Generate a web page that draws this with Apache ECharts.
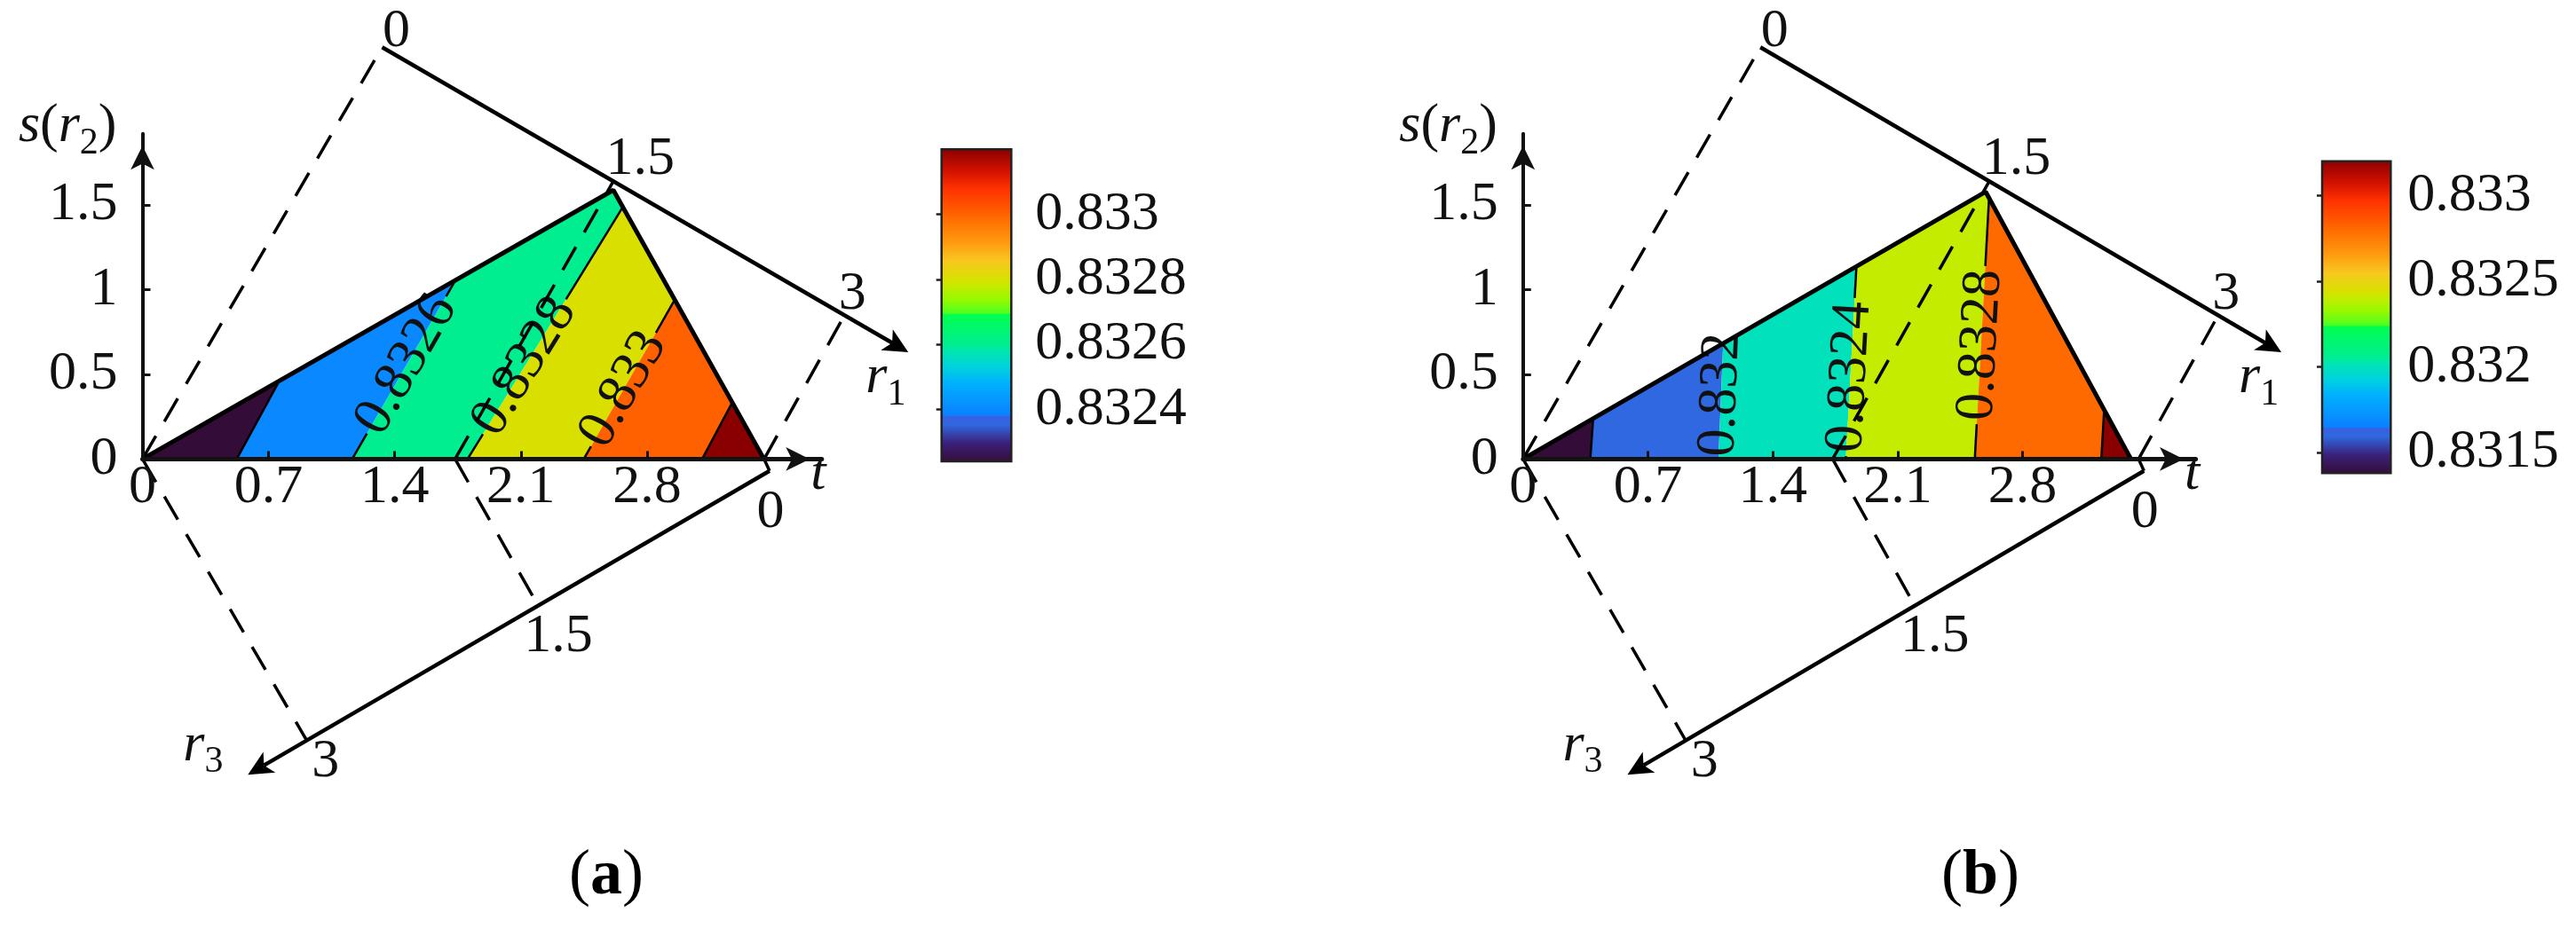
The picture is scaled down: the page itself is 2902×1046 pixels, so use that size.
<!DOCTYPE html>
<html><head><meta charset="utf-8">
<script src="https://cdn.jsdelivr.net/npm/echarts@6/dist/echarts.min.js"></script>
<style>html,body{margin:0;padding:0;background:#fff}#main{width:2902px;height:1046px}</style>
</head><body><div id="main"></div>
<script>
// ---------------- data ----------------
const tTicks = [0, 0.7, 1.4, 2.1, 2.8];
const sTicks = [0, 0.5, 1, 1.5];
const tMax = 3.77, sMax = 1.92;

// triangular domain (t, s(r2)) for each panel
const triangleA = [[0, 0], [2.613, 1.587], [3.449, 0]];
const triangleB = [[0, 0], [2.593, 1.577], [3.407, 0]];

// contour levels
const levelsA = [0.8324, 0.8326, 0.8328, 0.833, 0.8332];
const levelsB = [0.8316, 0.832, 0.8324, 0.8328, 0.8332];

// each contour line: t where it meets s = 0, and one upper point (t, s)
const contourBottomA = [0.523, 1.164, 1.804, 2.449, 3.106];
const contourUpperA = [[0.753, 0.449], [1.732, 1.046], [2.329, 0.906], [2.941, 0.916], [3.269, 0.325]];
const contourBottomB = [0.377, 1.095, 1.809, 2.532, 3.241];
const contourUpperB = [[0.392, 0.225], [1.121, 0.665], [1.869, 1.146], [2.608, 1.466], [3.256, 0.274]];

// which contours carry an inline label, and the s value at the label centre
const labelledA = [1, 2, 3];
const labelSA = [0.555, 0.545, 0.41];
const labelledB = [1, 2, 3];
const labelSB = [0.379, 0.484, 0.672];

// colour bars
const colorbarRangeA = [0.83224, 0.8332];
const colorbarTicksA = [0.8324, 0.8326, 0.8328, 0.833];
const colorbarRangeB = [0.83138, 0.8332];
const colorbarTicksB = [0.8315, 0.832, 0.8325, 0.833];

// colormap (fraction -> colour)
const cmapPos = [0, 0.06, 0.121, 0.145, 0.15, 0.167, 0.25, 0.30, 0.352, 0.375, 0.47, 0.475, 0.52, 0.56, 0.583, 0.64, 0.70, 0.78, 0.792, 0.87, 0.93, 1];
const cmapColors = ['#330d38', '#3b1f78', '#2f68e0', '#3a5fe0', '#0a80ff', '#0a88ff', '#00b0ff', '#00d0e0', '#00e6b2', '#00ee90', '#00ff50', '#50ff20', '#98f800', '#c4ec00', '#d9e000', '#f8c820', '#ff9a10', '#ff6a00', '#ff6100', '#ff3200', '#d01000', '#8a0000'];

// auxiliary r1 / r3 frame (shared), in (t, s) units
const tAnchors = [0, 1.735, 3.45];
const r1Values = [0, 1.5, 3];
const r3Values = [3, 1.5, 0];
const r1Zero = [1.33, 2.43], r1Three = [3.90, 0.856], r1Tip = [4.25, 0.63];
const r3Zero = [3.48, -0.07], r3Three = [0.908, -1.654], r3Tip = [0.585, -1.863];
const rTickValues = [0, 1.5, 3];
const rTickLabels = ['0', '1.5', '3'];

// ---------------- layout / style ----------------
const FONT = 'Liberation Serif';
const INK = '#111';
const FS = 62, SUB_FS = 42, SUB_DROP = 19;
const r1LabelOffset = [[16, -18], [30, -24], [8, -22]];
const r3LabelOffset = [[1, 47], [23, 36], [22, 25]];

const mctx = document.createElement('canvas').getContext('2d');
function tw(str, font) { mctx.font = font; return mctx.measureText(str).width; }
function fontOf(p) { return (p.italic ? 'italic ' : '') + (p.sub ? SUB_FS : FS) + 'px "' + FONT + '"'; }
function fmt(v) { return String(+v.toFixed(5)); }
function lerp2(a, b, u) { return [a[0] + (b[0] - a[0]) * u, a[1] + (b[1] - a[1]) * u]; }
function hexRgb(h) { return [parseInt(h.slice(1, 3), 16), parseInt(h.slice(3, 5), 16), parseInt(h.slice(5, 7), 16)]; }
function cmap(f) {
  f = Math.max(0, Math.min(1, f));
  for (let i = 0; i < cmapPos.length - 1; i++) {
    if (f <= cmapPos[i + 1]) {
      const u = (f - cmapPos[i]) / (cmapPos[i + 1] - cmapPos[i] || 1);
      const a = hexRgb(cmapColors[i]), b = hexRgb(cmapColors[i + 1]);
      return 'rgb(' + a.map((x, k) => Math.round(x + (b[k] - x) * u)).join(',') + ')';
    }
  }
  return cmapColors[cmapColors.length - 1];
}
function clipHalf(poly, P, Q, keepLeft) {
  const dx = Q[0] - P[0], dy = Q[1] - P[1];
  const f = p => dx * (p[1] - P[1]) - dy * (p[0] - P[0]);
  const out = [];
  for (let i = 0; i < poly.length; i++) {
    const a = poly[i], b = poly[(i + 1) % poly.length];
    const fa = f(a), fb = f(b);
    const ina = keepLeft ? fa >= 0 : fa <= 0, inb = keepLeft ? fb >= 0 : fb <= 0;
    if (ina) out.push(a);
    if (ina !== inb) { const u = fa / (fa - fb); out.push([a[0] + u * (b[0] - a[0]), a[1] + u * (b[1] - a[1])]); }
  }
  return out;
}
function lineInTriangle(tri, P, Q) {
  const d = [Q[0] - P[0], Q[1] - P[1]], ws = [];
  for (let i = 0; i < 3; i++) {
    const a = tri[i], b = tri[(i + 1) % 3], e = [b[0] - a[0], b[1] - a[1]];
    const den = d[0] * e[1] - d[1] * e[0];
    if (Math.abs(den) < 1e-12) continue;
    const ax = a[0] - P[0], ay = a[1] - P[1];
    const w = (ax * e[1] - ay * e[0]) / den, v = (ax * d[1] - ay * d[0]) / den;
    if (v >= -1e-9 && v <= 1 + 1e-9) ws.push(w);
  }
  const w0 = Math.min(...ws), w1 = Math.max(...ws);
  return [[P[0] + d[0] * w0, P[1] + d[1] * w0], [P[0] + d[0] * w1, P[1] + d[1] * w1]];
}
function seg(a, b, dashed, width) {
  return { type: 'line', shape: { x1: a[0], y1: a[1], x2: b[0], y2: b[1] },
    style: { stroke: '#000', lineWidth: width || 3.5, lineDash: dashed ? [30, 19] : null } };
}
function axisArrow(from, tip) {
  const len = 28, hw = 13.5;
  const dx = tip[0] - from[0], dy = tip[1] - from[1], L = Math.hypot(dx, dy);
  const ux = dx / L, uy = dy / L, nx = -uy, ny = ux;
  const notch = [tip[0] - 0.75 * len * ux, tip[1] - 0.75 * len * uy];
  return [
    seg(from, notch, false, 4.5),
    { type: 'polygon', shape: { points: [
      [tip[0], tip[1]],
      [tip[0] - len * ux + hw * nx, tip[1] - len * uy + hw * ny],
      notch,
      [tip[0] - len * ux - hw * nx, tip[1] - len * uy - hw * ny]] }, style: { fill: '#000' } }
  ];
}
function textEl(txt, x, y, opts) {
  opts = opts || {};
  return { type: 'text', x: x, y: y, rotation: opts.rotation || 0,
    style: { text: txt, fontSize: opts.size || FS, fontFamily: FONT, fontStyle: opts.italic ? 'italic' : 'normal',
      fill: INK, align: opts.align || 'center', verticalAlign: 'middle' } };
}
function runElems(parts, x, yMid, alignRight) {
  const widths = parts.map(p => tw(p.text, fontOf(p)));
  const total = widths.reduce((a, b) => a + b, 0);
  let cx = alignRight ? x - total : x;
  return parts.map((p, i) => {
    const el = textEl(p.text, cx, yMid + (p.sub ? SUB_DROP : 0), { size: p.sub ? SUB_FS : FS, italic: p.italic, align: 'left' });
    cx += widths[i];
    return el;
  });
}
const sParts = [{ text: 's', italic: true }, { text: '(' }, { text: 'r', italic: true }, { text: '2', sub: true }, { text: ')' }];
const r1Parts = [{ text: 'r', italic: true }, { text: '1', sub: true }];
const r3Parts = [{ text: 'r', italic: true }, { text: '3', sub: true }];

function frameRender(params, api) {
  const c = p => api.coord(p);
  const els = [];
  tAnchors.forEach((t, i) => {
    const b = c([t, 0]);
    els.push(seg(b, c(lerp2(r1Zero, r1Three, r1Values[i] / 3)), true));
    els.push(seg(b, c(lerp2(r3Zero, r3Three, r3Values[i] / 3)), true));
  });
  els.push(...axisArrow(c(r1Zero), c(r1Tip)), ...axisArrow(c(r3Zero), c(r3Tip)));
  rTickValues.forEach((v, i) => {
    const p1 = c(lerp2(r1Zero, r1Three, v / 3));
    els.push(textEl(rTickLabels[i], p1[0] + r1LabelOffset[i][0], p1[1] + r1LabelOffset[i][1]));
    const p3 = c(lerp2(r3Zero, r3Three, v / 3));
    els.push(textEl(rTickLabels[i], p3[0] + r3LabelOffset[i][0], p3[1] + r3LabelOffset[i][1]));
  });
  const tt = c([tMax, 0]);
  els.push(textEl('t', tt[0] - 4, tt[1] + 17, { italic: true }));
  const st = c([0, sMax]);
  els.push(...runElems(sParts, st[0] - 29, st[1] - 8, true));
  const a1 = c(r1Tip);
  els.push(...runElems(r1Parts, a1[0] - 48, a1[1] + 29, false));
  const a3 = c(r3Tip);
  els.push(...runElems(r3Parts, a3[0] - 73, a3[1] - 33, false));
  return { type: 'group', children: els };
}

function panelSeries(idx, tri, bottoms, uppers, levels, cbRange, labelled, labelS) {
  const nBands = bottoms.length + 1;
  const lower = [cbRange[0]].concat(levels.slice(0, nBands - 1));
  const span = cbRange[1] - cbRange[0];
  return [
    { type: 'custom', xAxisIndex: idx, yAxisIndex: idx, z: 1, clip: false,
      data: lower.map((v, k) => [k, 0]),
      renderItem: (params, api) => {
        const k = api.value(0);
        let poly = tri.slice();
        if (k < bottoms.length) poly = clipHalf(poly, [bottoms[k], 0], uppers[k], true);
        if (k > 0) poly = clipHalf(poly, [bottoms[k - 1], 0], uppers[k - 1], false);
        return { type: 'polygon', shape: { points: poly.map(p => api.coord(p)) },
          style: { fill: cmap((lower[k] - cbRange[0]) / span), stroke: null } };
      } },
    { type: 'custom', xAxisIndex: idx, yAxisIndex: idx, z: 3, clip: false,
      data: bottoms.map((b, i) => [i, 0]),
      renderItem: (params, api) => {
        const i = api.value(0);
        const P = [bottoms[i], 0], Q = uppers[i];
        const [e0, e1] = lineInTriangle(tri, P, Q);
        const p0 = api.coord(e0), p1 = api.coord(e1);
        const li = labelled.indexOf(i);
        if (li < 0) return seg(p0, p1, false, 2.5);
        const sL = labelS[li];
        const pc = api.coord([P[0] + (Q[0] - P[0]) * sL / Q[1], sL]);
        const ang = Math.atan2(p0[1] - p1[1], p1[0] - p0[0]);
        const ux = Math.cos(ang), uy = -Math.sin(ang);
        const txt = fmt(levels[i]);
        const half = tw(txt, FS + 'px "' + FONT + '"') / 2 + 4;
        const kids = [];
        const d0 = (p0[0] - pc[0]) * ux + (p0[1] - pc[1]) * uy;
        const d1 = (p1[0] - pc[0]) * ux + (p1[1] - pc[1]) * uy;
        if (d0 < -half) kids.push(seg(p0, [pc[0] - half * ux, pc[1] - half * uy], false, 2.5));
        if (d1 > half) kids.push(seg([pc[0] + half * ux, pc[1] + half * uy], p1, false, 2.5));
        kids.push(textEl(txt, pc[0], pc[1], { rotation: ang }));
        return { type: 'group', children: kids };
      } },
    { type: 'line', xAxisIndex: idx, yAxisIndex: idx, z: 4, symbol: 'none', silent: true,
      data: tri, lineStyle: { color: '#000', width: 5 } },
    { type: 'custom', xAxisIndex: idx, yAxisIndex: idx, z: 5, clip: false,
      data: [[0, 0]], renderItem: frameRender }
  ];
}

function colorbarSeries(idx, range) {
  return { type: 'custom', xAxisIndex: idx, yAxisIndex: idx, z: 1, clip: false,
    data: [[0, range[0]]],
    renderItem: (params, api) => {
      const a = api.coord([0, range[1]]), b = api.coord([1, range[0]]);
      return { type: 'rect', shape: { x: a[0], y: a[1], width: b[0] - a[0], height: b[1] - a[1] },
        style: { fill: new echarts.graphic.LinearGradient(0, 1, 0, 0, cmapPos.map((p, i) => ({ offset: p, color: cmapColors[i] }))),
          stroke: '#222', lineWidth: 2.5 } };
    } };
}

const labelStyle = { fontSize: FS, fontFamily: FONT, color: INK };
function plotX(g) {
  return { type: 'value', gridIndex: g, min: 0, max: tMax, z: 10,
    axisLine: { show: true, onZero: false, lineStyle: { color: INK, width: 5 }, symbol: ['none', 'arrow'], symbolSize: [20, 27], symbolOffset: [0, -13.5] },
    axisTick: { show: true, inside: true, length: 9, lineStyle: { color: INK, width: 3 }, customValues: tTicks },
    axisLabel: Object.assign({ show: true, margin: 1, customValues: tTicks }, labelStyle),
    splitLine: { show: false } };
}
function plotY(g) {
  return { type: 'value', gridIndex: g, min: 0, max: sMax, z: 10,
    axisLine: { show: true, onZero: false, lineStyle: { color: INK, width: 4 }, symbol: ['none', 'arrow'], symbolSize: [20, 27], symbolOffset: [0, -13.5] },
    axisTick: { show: true, inside: true, length: 9, lineStyle: { color: INK, width: 3 }, customValues: sTicks },
    axisLabel: Object.assign({ show: true, margin: 28, customValues: sTicks }, labelStyle),
    splitLine: { show: false } };
}
function cbX(g) { return { type: 'value', gridIndex: g, min: 0, max: 1, show: false }; }
function cbY(g, range, ticks, margin) {
  return { type: 'value', gridIndex: g, min: range[0], max: range[1], position: 'right', z: 10,
    axisLine: { show: false },
    axisTick: { show: true, inside: true, length: 6, lineStyle: { color: '#222', width: 2.5 }, customValues: ticks },
    axisLabel: Object.assign({ show: true, margin: margin, customValues: ticks, formatter: v => fmt(v) }, labelStyle),
    splitLine: { show: false } };
}

const chart = echarts.init(document.getElementById('main'), null, { renderer: 'canvas', width: 2902, height: 1046 });
chart.setOption({
  animation: false,
  backgroundColor: '#fff',
  grid: [
    { left: 160.5, top: 517.4 - sMax * 191, width: tMax * 203, height: sMax * 191, outerBoundsMode: 'none' },
    { left: 1715.8, top: 517.4 - sMax * 191, width: tMax * 201, height: sMax * 191, outerBoundsMode: 'none' },
    { left: 1060.7, top: 168.3, width: 78.6, height: 351.7, outerBoundsMode: 'none' },
    { left: 2616, top: 181.7, width: 77.3, height: 351.6, outerBoundsMode: 'none' }
  ],
  xAxis: [plotX(0), plotX(1), cbX(2), cbX(3)],
  yAxis: [plotY(0), plotY(1), cbY(2, colorbarRangeA, colorbarTicksA, 27), cbY(3, colorbarRangeB, colorbarTicksB, 19)],
  series: [].concat(
    panelSeries(0, triangleA, contourBottomA, contourUpperA, levelsA, colorbarRangeA, labelledA, labelSA),
    panelSeries(1, triangleB, contourBottomB, contourUpperB, levelsB, colorbarRangeB, labelledB, labelSB),
    [colorbarSeries(2, colorbarRangeA), colorbarSeries(3, colorbarRangeB)]
  ),
  graphic: [
    { type: 'text', x: 683, y: 988, style: { text: '{p|(}{b|a}{p|)}', align: 'center', verticalAlign: 'middle',
      rich: { p: { fontSize: 72, fontFamily: FONT, fill: '#000' }, b: { fontSize: 72, fontFamily: FONT, fontWeight: 'bold', fill: '#000' } } } },
    { type: 'text', x: 2231, y: 988, style: { text: '{p|(}{b|b}{p|)}', align: 'center', verticalAlign: 'middle',
      rich: { p: { fontSize: 72, fontFamily: FONT, fill: '#000' }, b: { fontSize: 72, fontFamily: FONT, fontWeight: 'bold', fill: '#000' } } } }
  ]
});
</script>
</body></html>
